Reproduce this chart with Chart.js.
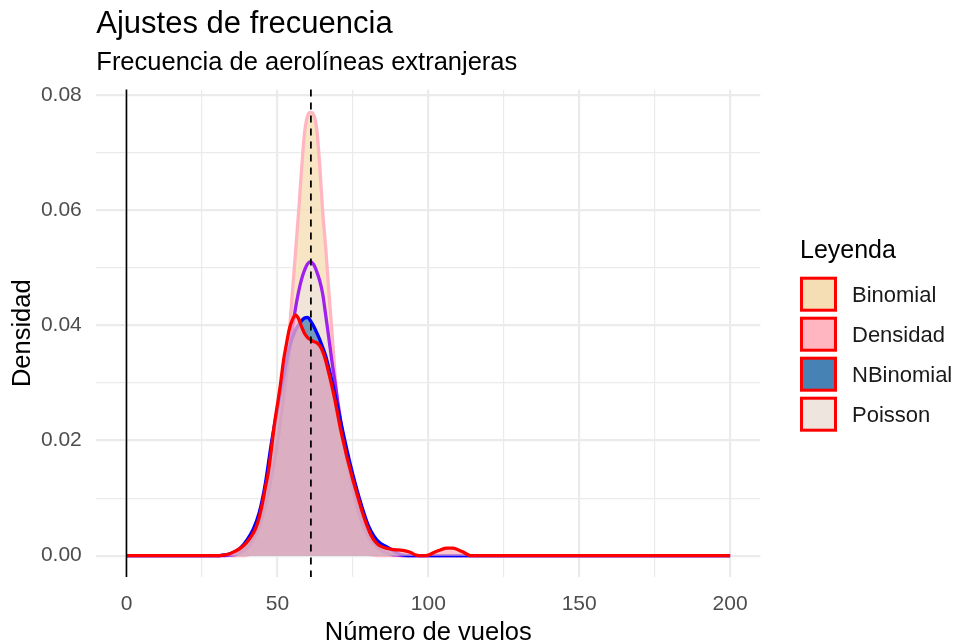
<!DOCTYPE html>
<html>
<head>
<meta charset="utf-8">
<script src="https://cdn.jsdelivr.net/npm/chart.js@4/dist/chart.umd.min.js"></script>
<style>
html,body{margin:0;padding:0;background:#ffffff;}
#wrap{width:958px;height:642px;position:relative;}
</style>
</head>
<body>
<div id="wrap"><canvas id="c" width="958" height="642"></canvas></div>
<script>
// ---- Data ----
const xBinomial = [0, 38, 40, 42, 44, 46, 48, 50, 52, 53, 54, 55, 56, 57, 58, 59, 60, 61, 62, 63, 64, 65, 66, 67, 68, 69, 70, 72, 74, 76, 78, 80, 82, 84, 200];
const yBinomial = [0, 0, 0.0001, 0.0004, 0.0012, 0.0032, 0.0070, 0.0137, 0.0240, 0.0305, 0.0390, 0.0460, 0.0526, 0.0595, 0.0670, 0.0735, 0.0764, 0.0770, 0.0766, 0.0742, 0.0680, 0.0598, 0.0535, 0.0462, 0.0395, 0.0322, 0.0255, 0.0145, 0.0070, 0.0030, 0.0011, 0.0004, 0.0001, 0, 0];

const xPoisson = [0, 32, 34, 36, 38, 40, 42, 44, 46, 48, 50, 52, 54, 55, 56, 57, 58, 59, 60, 61, 62, 63, 64, 65, 66, 67, 68, 69, 70, 72, 74, 76, 78, 80, 82, 84, 86, 88, 90, 92, 200];
const yPoisson = [0, 0, 0.0001, 0.0002, 0.0006, 0.0013, 0.0027, 0.0050, 0.0086, 0.0135, 0.0195, 0.0272, 0.0355, 0.0395, 0.0430, 0.0458, 0.0480, 0.0496, 0.0507, 0.0511, 0.0506, 0.0494, 0.0478, 0.0455, 0.0418, 0.0380, 0.0340, 0.0305, 0.0268, 0.0200, 0.0143, 0.0093, 0.0058, 0.0034, 0.0019, 0.0010, 0.0005, 0.0002, 0.0001, 0, 0];

const xNBinomial = [0, 30, 32, 34, 36, 38, 40, 42, 44, 46, 48, 50, 52, 54, 56, 58, 59, 60, 61, 62, 63, 64, 65, 66, 67, 68, 69, 70, 72, 74, 76, 78, 80, 82, 84, 86, 88, 90, 92, 94, 200];
const yNBinomial = [0, 0, 0.0001, 0.0003, 0.0007, 0.0015, 0.0028, 0.0046, 0.0075, 0.0125, 0.0195, 0.0255, 0.0310, 0.0362, 0.0392, 0.0408, 0.0413, 0.0414, 0.0408, 0.0399, 0.0388, 0.0376, 0.0362, 0.0347, 0.0327, 0.0305, 0.0282, 0.0258, 0.0208, 0.0162, 0.0121, 0.0085, 0.0054, 0.0034, 0.0022, 0.0016, 0.0010, 0.0004, 0.0001, 0, 0];

const xDensidad = [0, 30, 32, 34, 36, 38, 40, 42, 43, 44, 45, 46, 47, 48, 49, 50, 51, 52, 53, 54, 55, 56, 57, 58, 59, 60, 61, 62, 63, 64, 65, 66, 67, 68, 69, 70, 71, 72, 73, 74, 75, 76, 77, 78, 79, 80, 81, 82, 83, 84, 86, 88, 90, 92, 94, 96, 98, 100, 102, 104, 106, 108, 110, 112, 114, 200];
const yDensidad = [0, 0, 0.0001, 0.0003, 0.0008, 0.0014, 0.0024, 0.0039, 0.0050, 0.0067, 0.0090, 0.0118, 0.0145, 0.0185, 0.0228, 0.0262, 0.0297, 0.0338, 0.0368, 0.0395, 0.0410, 0.0418, 0.0412, 0.0398, 0.0386, 0.0379, 0.0375, 0.0372, 0.0370, 0.0365, 0.0355, 0.0339, 0.0318, 0.0296, 0.0272, 0.0245, 0.0218, 0.0195, 0.0172, 0.0152, 0.0132, 0.0114, 0.0096, 0.0078, 0.0062, 0.0048, 0.0036, 0.0027, 0.0021, 0.0017, 0.0013, 0.0011, 0.0010, 0.0009, 0.0006, 0.0001, 0, 0.0001, 0.0006, 0.0010, 0.0013, 0.0013, 0.0010, 0.0005, 0, 0];

const serieNombres = ['Binomial', 'Densidad', 'NBinomial', 'Poisson'];
const marcasX = [0, 25, 50, 75, 100, 125, 150, 175, 200];
const etiquetasX = ['0', '', '50', '', '100', '', '150', '', '200'];
const marcasY = [0, 0.01, 0.02, 0.03, 0.04, 0.05, 0.06, 0.07, 0.08];
const etiquetasY = ['0.00', '', '0.02', '', '0.04', '', '0.06', '', '0.08'];
const lineaCero = 0;
const mediaVuelos = 61.1;

// ---- Chart ----
const FONT = "'Liberation Sans', Arial, Helvetica, sans-serif";
Chart.defaults.font.family = FONT;

function pts(xs, ys) { return xs.map((x, i) => ({ x: x, y: ys[i] })); }

const estilo = {
  Binomial:  { fill: 'rgba(245,222,179,0.78)', line: '#FFB6C1', key: '#F5DEB3', order: 3, data: pts(xBinomial, yBinomial) },
  Densidad:  { fill: 'rgba(255,182,193,0.75)', line: '#FF0000', key: '#FFB6C1', order: 0, data: pts(xDensidad, yDensidad) },
  NBinomial: { fill: 'rgba(70,130,180,0.75)',  line: '#0000FF', key: '#4682B4', order: 1, data: pts(xNBinomial, yNBinomial) },
  Poisson:   { fill: 'rgba(238,229,222,0.78)', line: '#A020F0', key: '#EEE5DE', order: 2, data: pts(xPoisson, yPoisson) }
};

const datasets = serieNombres.map(n => ({
  label: n,
  data: estilo[n].data,
  order: estilo[n].order,
  backgroundColor: estilo[n].fill,
  borderColor: estilo[n].line,
  borderWidth: 3.3,
  fill: 'origin',
  pointRadius: 0,
  tension: 0.4,
  cubicInterpolationMode: 'monotone'
}));

const vlinesPlugin = {
  id: 'vlines',
  afterDatasetsDraw(chart) {
    const { ctx, chartArea: a, scales: { x } } = chart;
    ctx.save();
    let px = x.getPixelForValue(lineaCero);
    ctx.strokeStyle = '#000000';
    ctx.lineWidth = 1.6;
    ctx.beginPath(); ctx.moveTo(px, a.top); ctx.lineTo(px, a.bottom); ctx.stroke();
    px = x.getPixelForValue(mediaVuelos);
    ctx.setLineDash([7, 6]);
    ctx.lineWidth = 1.8;
    ctx.beginPath(); ctx.moveTo(px, a.top); ctx.lineTo(px, a.bottom); ctx.stroke();
    ctx.restore();
  }
};

const legendPlugin = {
  id: 'leyenda',
  afterDraw(chart) {
    const ctx = chart.ctx;
    ctx.save();
    ctx.fillStyle = '#000000';
    ctx.font = '25px ' + FONT;
    ctx.textAlign = 'left';
    ctx.textBaseline = 'alphabetic';
    ctx.fillText('Leyenda', 800, 258);
    chart.data.datasets.forEach((ds, i) => {
      const top = 278.2 + i * 40;
      ctx.fillStyle = estilo[ds.label].key;
      ctx.fillRect(801.5, top, 34, 32);
      ctx.strokeStyle = '#FF0000';
      ctx.lineWidth = 3;
      ctx.strokeRect(801.5, top, 34, 32);
      ctx.fillStyle = '#1A1A1A';
      ctx.font = '22px ' + FONT;
      ctx.textBaseline = 'middle';
      ctx.fillText(ds.label, 852, top + 18);
    });
    ctx.restore();
  }
};

new Chart(document.getElementById('c'), {
  type: 'line',
  data: { datasets: datasets },
  options: {
    responsive: false,
    animation: false,
    devicePixelRatio: 1,
    layout: { padding: { left: 0, right: 197.7, top: 0, bottom: 0 } },
    plugins: {
      legend: { display: false },
      tooltip: { enabled: false },
      title: {
        display: true, text: 'Ajustes de frecuencia', align: 'start', fullSize: false,
        color: '#000000', font: { size: 31, weight: 'normal', lineHeight: 1.2 },
        padding: { top: 6, bottom: 0 }
      },
      subtitle: {
        display: true, text: 'Frecuencia de aerolíneas extranjeras', align: 'start', fullSize: false,
        color: '#000000', font: { size: 25.5, weight: 'normal', lineHeight: 1.2 },
        padding: { top: 4, bottom: 11.6 }
      }
    },
    scales: {
      x: {
        type: 'linear', min: -10, max: 210,
        afterFit(s) { s.height = 65; },
        afterBuildTicks(s) { s.ticks = marcasX.map(v => ({ value: v })); },
        ticks: {
          autoSkip: false, maxRotation: 0, padding: 15, color: '#4D4D4D',
          font: { size: 21 },
          callback(v, i) { return etiquetasX[marcasX.indexOf(v)]; }
        },
        grid: {
          drawTicks: false, color: '#EBEBEB',
          lineWidth(c) { return (c.tick && c.tick.value % 50 === 0) ? 2.2 : 1.2; }
        },
        border: { display: false },
        title: {
          display: true, text: 'Número de vuelos', color: '#000000',
          font: { size: 25.5, lineHeight: 0.7 }, padding: { top: 0, bottom: 0 }
        }
      },
      y: {
        type: 'linear', min: -0.0037, max: 0.081,
        afterFit(s) { s.width = 96.3; },
        afterBuildTicks(s) { s.ticks = marcasY.map(v => ({ value: v })); },
        ticks: {
          autoSkip: false, padding: 14.5, color: '#4D4D4D',
          font: { size: 21 },
          callback(v) { const i = marcasY.findIndex(m => Math.abs(m - v) < 1e-9); return i >= 0 ? etiquetasY[i] : ''; }
        },
        grid: {
          drawTicks: false, color: '#EBEBEB',
          lineWidth(c) { return (c.tick && Math.round(c.tick.value * 1000) % 20 === 0) ? 2.2 : 1.2; }
        },
        border: { display: false },
        title: {
          display: true, text: 'Densidad', color: '#000000',
          font: { size: 25.5, lineHeight: 1.2 }, padding: { top: 8, bottom: 0 }
        }
      }
    }
  },
  plugins: [vlinesPlugin, legendPlugin]
});
</script>
</body>
</html>
